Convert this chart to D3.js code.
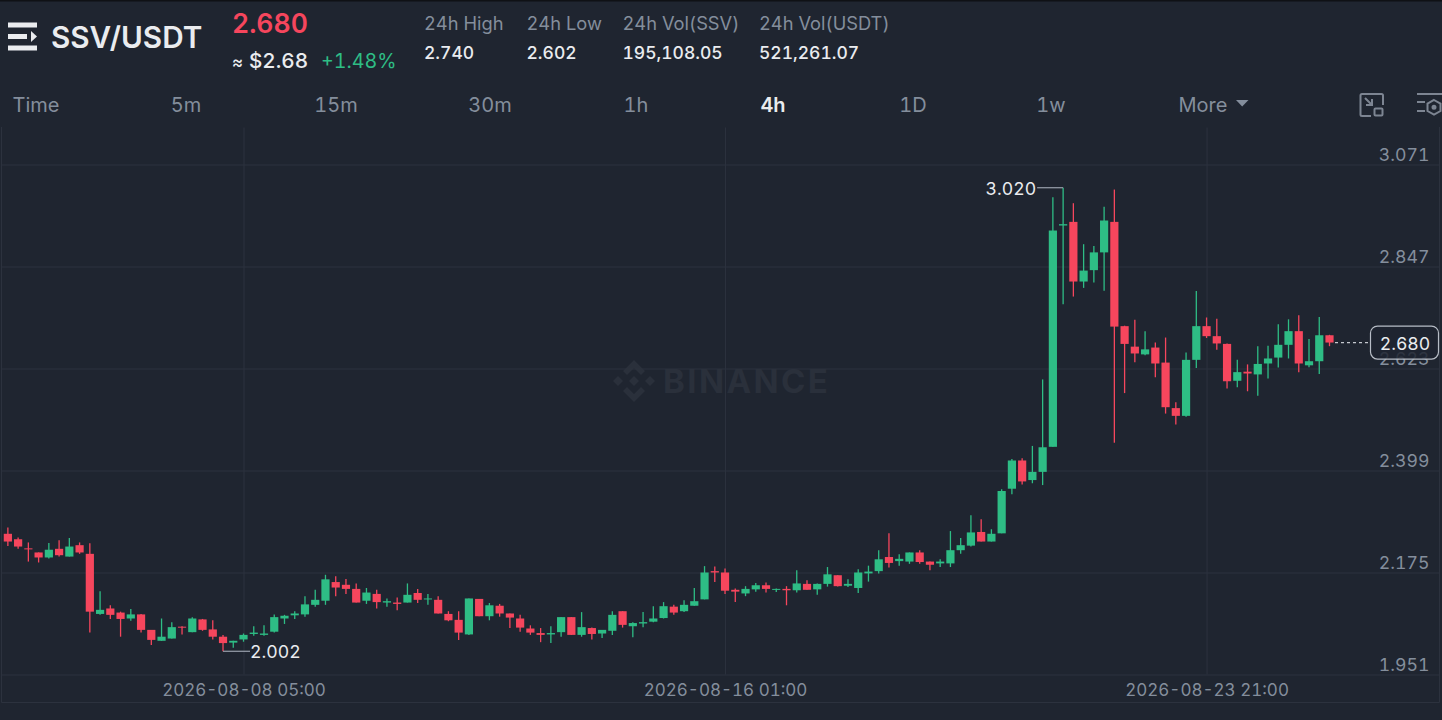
<!DOCTYPE html>
<meta charset="utf-8">
<style>
html, body { margin: 0; background: #1f2530; overflow: hidden; }
svg { display: block; font-family: Inter, sans-serif; font-variant-numeric: tabular-nums; }
.domain { display: none; }
.tick line { stroke: #2c323e; }
.tick text { font-size: 17.7px; fill: #848e9c; font-family: Inter, sans-serif; }
</style>
<body>
<svg width="1442" height="720"></svg>
<script src="https://d3js.org/d3.v7.min.js"></script>
<script>

var opens = [
  2.260,2.248,2.228,2.219,2.208,2.227,2.210,2.235,2.216,2.084,
  2.096,2.087,2.074,2.083,2.049,2.025,2.030,2.056,2.044,2.072,
  2.050,2.034,2.021,2.028,2.040,2.038,2.045,2.074,2.081,2.083,
  2.104,2.113,2.154,2.148,2.139,2.113,2.128,2.109,2.109,2.109,
  2.130,2.116,2.115,2.084,2.071,2.039,2.117,2.079,2.102,2.085,
  2.074,2.052,2.042,2.039,2.044,2.077,2.038,2.053,2.041,2.047,
  2.090,2.057,2.063,2.067,2.075,2.100,2.090,2.102,2.116,2.178,
  2.175,2.137,2.129,2.138,2.147,2.137,2.139,2.136,2.150,2.138,
  2.150,2.169,2.146,2.141,2.173,2.178,2.209,2.200,2.199,2.219,
  2.199,2.195,2.195,2.224,2.234,2.264,2.243,2.261,2.359,2.421,
  2.378,2.396,2.451,2.937,2.945,2.814,2.839,2.878,2.945,2.716,
  2.671,2.654,2.669,2.636,2.536,2.519,2.642,2.716,2.694,2.677,
  2.596,2.616,2.610,2.634,2.647,2.675,2.705,2.630,2.639,2.696];

var highs = [
  2.274,2.252,2.241,2.219,2.240,2.246,2.251,2.241,2.239,2.134,
  2.103,2.089,2.095,2.084,2.049,2.074,2.066,2.057,2.077,2.073,
  2.070,2.038,2.025,2.041,2.057,2.059,2.083,2.082,2.090,2.123,
  2.137,2.170,2.167,2.161,2.151,2.141,2.137,2.118,2.120,2.151,
  2.139,2.128,2.123,2.090,2.090,2.118,2.117,2.108,2.106,2.085,
  2.082,2.059,2.053,2.057,2.077,2.077,2.088,2.054,2.049,2.090,
  2.090,2.066,2.088,2.101,2.110,2.104,2.114,2.141,2.189,2.188,
  2.184,2.140,2.145,2.152,2.153,2.140,2.145,2.180,2.158,2.151,
  2.187,2.169,2.160,2.182,2.190,2.224,2.261,2.215,2.219,2.224,
  2.199,2.204,2.266,2.251,2.301,2.292,2.270,2.358,2.424,2.426,
  2.453,2.599,2.999,3.020,2.986,2.896,2.892,2.978,3.016,2.717,
  2.730,2.705,2.680,2.691,2.549,2.658,2.793,2.735,2.732,2.678,
  2.642,2.632,2.672,2.673,2.720,2.731,2.740,2.688,2.736,2.697];

var lows = [
  2.233,2.227,2.199,2.197,2.206,2.210,2.210,2.216,2.043,2.082,
  2.073,2.034,2.069,2.043,2.016,2.025,2.030,2.039,2.044,2.047,
  2.028,2.002,2.010,2.023,2.036,2.036,2.043,2.062,2.073,2.078,
  2.100,2.104,2.123,2.128,2.109,2.106,2.096,2.100,2.092,2.109,
  2.108,2.104,2.085,2.068,2.027,2.038,2.079,2.070,2.078,2.053,
  2.045,2.038,2.022,2.020,2.034,2.038,2.034,2.028,2.031,2.038,
  2.054,2.033,2.055,2.066,2.074,2.082,2.088,2.102,2.116,2.154,
  2.128,2.110,2.123,2.133,2.131,2.132,2.103,2.131,2.137,2.126,
  2.144,2.144,2.143,2.130,2.155,2.173,2.186,2.190,2.194,2.194,
  2.180,2.187,2.187,2.216,2.232,2.243,2.243,2.261,2.347,2.368,
  2.371,2.367,2.451,2.764,2.781,2.800,2.812,2.794,2.460,2.569,
  2.637,2.652,2.604,2.524,2.500,2.517,2.624,2.690,2.664,2.579,
  2.582,2.573,2.563,2.601,2.625,2.645,2.615,2.626,2.611,2.672];

var closes = [
  2.243,2.232,2.226,2.208,2.225,2.213,2.232,2.219,2.089,2.093,
  2.082,2.073,2.083,2.049,2.027,2.034,2.055,2.054,2.074,2.049,
  2.034,2.020,2.025,2.038,2.043,2.041,2.077,2.080,2.085,2.105,
  2.115,2.160,2.142,2.139,2.109,2.131,2.110,2.112,2.106,2.126,
  2.115,2.118,2.085,2.070,2.043,2.118,2.079,2.103,2.085,2.076,
  2.054,2.043,2.038,2.042,2.077,2.038,2.055,2.040,2.049,2.082,
  2.060,2.064,2.066,2.074,2.101,2.087,2.104,2.112,2.175,2.175,
  2.135,2.133,2.139,2.147,2.139,2.139,2.136,2.151,2.137,2.150,
  2.171,2.145,2.150,2.175,2.177,2.204,2.196,2.205,2.219,2.198,
  2.192,2.199,2.224,2.235,2.263,2.243,2.260,2.354,2.421,2.375,
  2.396,2.450,2.926,2.940,2.814,2.838,2.878,2.948,2.715,2.677,
  2.656,2.665,2.634,2.538,2.519,2.642,2.716,2.694,2.678,2.595,
  2.615,2.612,2.633,2.645,2.675,2.705,2.634,2.639,2.696,2.680];

// 4h candles, the first one opens here
var firstCandle = Date.UTC(2026, 7, 4, 9);
var candleMs = 4 * 3600 * 1000;

var priceTicks = [3.071, 2.847, 2.623, 2.399, 2.175, 1.951];
var timeTicks = [Date.UTC(2026, 7, 8, 5), Date.UTC(2026, 7, 16, 1), Date.UTC(2026, 7, 23, 21)];

var tabs = ["Time", "5m", "15m", "30m", "1h", "4h", "1D", "1w", "More"];
var statLabels = ["24h High", "24h Low", "24h Vol(SSV)", "24h Vol(USDT)"];
var statValues = ["2.740", "2.602", "195,108.05", "521,261.07"];

var green = "#2ebd85", red = "#f6465d", bright = "#eaecef", grey = "#848e9c", bg = "#1f2530";

var svg = d3.select("svg");

// x: time, y: price. Calibrated on the picture's gridlines
var x = d3.scaleUtc()
    .domain([firstCandle, firstCandle + 129 * candleMs])
    .range([7.87, 1329.5]);
var y = d3.scaleLinear()
    .domain([1.951, 3.071])
    .range([674.5, 164.5]);
var step = x(firstCandle + candleMs) - x(firstCandle);

var candles = opens.map(function(o, i) {
  return {t: firstCandle + i * candleMs, o: o, h: highs[i], l: lows[i], c: closes[i]};
});

// top strip
svg.append("rect").attr("width", 1442).attr("height", 1.5).attr("fill", "#0f1115");

// watermark
var mark = svg.append("g").attr("fill", "#2a303b").attr("transform", "translate(634,381)");
mark.append("path").attr("d", "M0,-21L11,-10L7,-6L0,-13L-7,-6L-11,-10Z");
mark.append("path").attr("d", "M0,21L11,10L7,6L0,13L-7,6L-11,10Z");
mark.append("path").attr("d", "M0,-5L5,0L0,5L-5,0Z");
mark.append("path").attr("d", "M-16,-5L-11,0L-16,5L-21,0Z");
mark.append("path").attr("d", "M16,-5L21,0L16,5L11,0Z");
svg.append("text").attr("x", 663).attr("y", 393)
    .attr("font-size", 33).attr("font-weight", 700).attr("letter-spacing", 2.4)
    .attr("fill", "#2a303b").text("BINANCE");

// axes with their gridlines
svg.append("g")
    .attr("transform", "translate(1439.5,0)")
    .call(d3.axisLeft(y).tickValues(priceTicks).tickSize(1438).tickFormat(d3.format(".3f")))
    .call(function(g) {
      g.selectAll("text").attr("x", -10).attr("dy", 0).attr("y", -4);
    });

svg.append("g")
    .attr("transform", "translate(0,674.5)")
    .call(d3.axisBottom(x).tickValues(timeTicks).tickSize(-547).tickFormat(d3.utcFormat("%Y-%m-%d %H:%M")))
    .call(function(g) {
      g.selectAll("text").style("font-size", "17.05px").attr("y", 5).attr("dy", "0.95em");
    });

svg.append("path")
    .attr("d", "M1.5,127V702.5H1439.5V127")
    .attr("fill", "none").attr("stroke", "#2c323e");

// candles
var candle = svg.append("g").selectAll("g")
  .data(candles)
  .enter().append("g")
    .attr("fill", function(d) { return d.c > d.o ? green : red; })
    .attr("stroke", function(d) { return d.c > d.o ? green : red; });

candle.append("line")
    .attr("x1", function(d) { return x(d.t); })
    .attr("x2", function(d) { return x(d.t); })
    .attr("y1", function(d) { return y(d.h); })
    .attr("y2", function(d) { return y(d.l); })
    .attr("stroke-width", 1.3);

candle.append("rect")
    .attr("x", function(d) { return x(d.t) - step * 0.4; })
    .attr("width", step * 0.8)
    .attr("y", function(d) { return y(Math.max(d.o, d.c)); })
    .attr("height", function(d) { return Math.max(Math.abs(y(d.o) - y(d.c)), 1); })
    .attr("stroke", "none");

// high / low markers
var highest = d3.greatest(candles, function(d) { return d.h; });
var lowest = d3.least(candles, function(d) { return d.l; });

svg.append("line")
    .attr("x1", x(highest.t) - 26).attr("x2", x(highest.t))
    .attr("y1", y(highest.h)).attr("y2", y(highest.h))
    .attr("stroke", "#9aa1ac").attr("stroke-width", 1.2);
svg.append("text")
    .attr("x", x(highest.t) - 27).attr("y", y(highest.h) + 7)
    .attr("text-anchor", "end").attr("font-size", 17.7).attr("fill", bright)
    .text(d3.format(".3f")(highest.h));

svg.append("line")
    .attr("x1", x(lowest.t)).attr("x2", x(lowest.t) + 27)
    .attr("y1", y(lowest.l)).attr("y2", y(lowest.l))
    .attr("stroke", "#9aa1ac").attr("stroke-width", 1.2);
svg.append("text")
    .attr("x", x(lowest.t) + 27).attr("y", y(lowest.l) + 6.5)
    .attr("font-size", 17.7).attr("fill", bright)
    .text(d3.format(".3f")(lowest.l));

// last price line and tag
var last = closes[closes.length - 1];
svg.append("line")
    .attr("x1", 1335).attr("x2", 1370)
    .attr("y1", y(last)).attr("y2", y(last))
    .attr("stroke", "#c4c8ce").attr("stroke-width", 1.2).attr("stroke-dasharray", "3,3");
svg.append("rect")
    .attr("x", 1370.5).attr("y", y(last) - 16.5)
    .attr("width", 68).attr("height", 33).attr("rx", 7)
    .attr("fill", bg).attr("fill-opacity", 0.85)
    .attr("stroke", "#b7bdc6").attr("stroke-width", 1.2);
svg.append("text")
    .attr("x", 1405).attr("y", y(last) + 7)
    .attr("text-anchor", "middle").attr("font-size", 17.7).attr("fill", bright)
    .text(d3.format(".3f")(last));

// header
var logo = svg.append("g").attr("fill", bright);
logo.append("rect").attr("x", 8).attr("y", 22.5).attr("width", 29).attr("height", 5);
logo.append("rect").attr("x", 8).attr("y", 34).attr("width", 19).attr("height", 5);
logo.append("rect").attr("x", 8).attr("y", 45.5).attr("width", 29).attr("height", 5);
logo.append("path").attr("d", "M31,31V42L37,36.5Z");

svg.append("text").attr("x", 51).attr("y", 48)
    .attr("font-size", 29.7).attr("font-weight", 600).attr("fill", bright).text("SSV/USDT");
svg.append("text").attr("x", 232).attr("y", 33)
    .attr("font-size", 26.6).attr("font-weight", 600).attr("fill", red).text("2.680");
svg.append("text").attr("x", 232).attr("y", 68).attr("font-size", 17)
    .attr("font-weight", 500).attr("fill", bright).text("\u2248");
svg.append("text").attr("x", 249).attr("y", 68)
    .attr("font-size", 20.7).attr("font-weight", 500).attr("fill", bright).text("$2.68");
svg.append("text").attr("x", 321).attr("y", 68)
    .attr("font-size", 19.7).attr("fill", green).text("+1.48%");

var statX = [424, 526.5, 622.5, 759];
svg.append("g").selectAll("text").data(statLabels).enter().append("text")
    .attr("x", function(d, i) { return statX[i]; }).attr("y", 30)
    .attr("font-size", 18.3).attr("fill", grey).text(function(d) { return d; });
svg.append("g").selectAll("text").data(statValues).enter().append("text")
    .attr("x", function(d, i) { return statX[i]; }).attr("y", 59)
    .attr("font-size", 17.5).attr("font-weight", 500).attr("fill", bright).text(function(d) { return d; });

// interval tabs
var tabX = [36, 186, 336, 490, 636, 773, 913, 1051, 1203];
svg.append("g").selectAll("text").data(tabs).enter().append("text")
    .attr("x", function(d, i) { return tabX[i]; }).attr("y", 112)
    .attr("text-anchor", "middle").attr("font-size", 20)
    .attr("font-weight", function(d) { return d == "4h" ? 600 : 400; })
    .attr("fill", function(d) { return d == "4h" ? bright : grey; })
    .text(function(d) { return d; });
svg.append("path").attr("d", "M1236,100H1248.5L1242.2,106.5Z").attr("fill", grey);

// toolbar icons
var icon = svg.append("g").attr("fill", "none").attr("stroke", "#7d8592").attr("stroke-width", 2);
icon.append("path").attr("d", "M1371,116H1362a1.5,1.5 0 0 1 -1.5,-1.5V95.5a1.5,1.5 0 0 1 1.5,-1.5H1381.5a1.5,1.5 0 0 1 1.5,1.5V105");
icon.append("rect").attr("x", 1374.5).attr("y", 108.5).attr("width", 8).attr("height", 7).attr("rx", 1);
icon.append("path").attr("d", "M1365,98L1372,105M1372,99V105H1366");
icon.append("path").attr("d", "M1417,94H1442M1417,102H1425M1417,111H1425");
icon.append("path").attr("d", "M1434,100L1440.5,103.7V111L1434,114.7L1427.5,111V103.7Z");
icon.append("circle").attr("cx", 1434).attr("cy", 107.3).attr("r", 1.5).attr("fill", "#7d8592");

</script>
</body>
